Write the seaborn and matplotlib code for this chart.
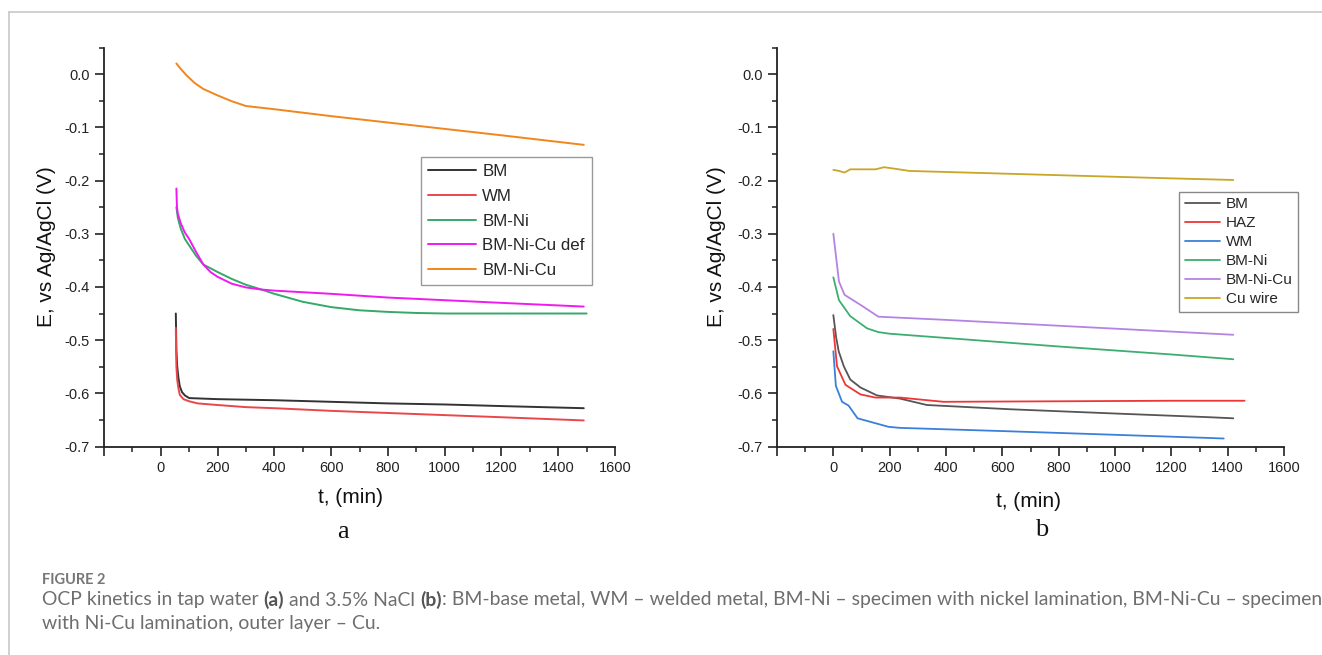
import numpy as np
import pandas as pd
import matplotlib
matplotlib.use("Agg")
import matplotlib.pyplot as plt
from matplotlib.lines import Line2D
from matplotlib.ticker import FixedLocator, MultipleLocator, FuncFormatter
from matplotlib import font_manager
import seaborn as sns

# ---------------- Panel a: tap water ----------------
a_series = ["BM", "WM", "BM-Ni", "BM-Ni-Cu def", "BM-Ni-Cu"]
a_colors = ["#333333", "#E8484C", "#35A86A", "#F01AF0", "#F0861C"]

a_bm_t = [53, 55, 58, 62, 67, 75, 85, 100, 200, 400, 600, 800, 1000, 1200, 1490]
a_bm_e = [-0.450, -0.520, -0.550, -0.570, -0.587, -0.598, -0.604, -0.609, -0.611,
          -0.613, -0.616, -0.619, -0.621, -0.624, -0.628]

a_wm_t = [53, 55, 58, 62, 67, 80, 100, 130, 200, 300, 400, 600, 800, 1000, 1200, 1490]
a_wm_e = [-0.477, -0.550, -0.575, -0.590, -0.603, -0.611, -0.615, -0.619, -0.622,
          -0.626, -0.628, -0.633, -0.637, -0.641, -0.645, -0.651]

a_ni_t = [55, 60, 70, 85, 100, 125, 150, 200, 250, 300, 355, 400, 500, 600, 700,
          800, 900, 1000, 1500]
a_ni_e = [-0.250, -0.270, -0.290, -0.310, -0.322, -0.342, -0.358, -0.372, -0.385,
          -0.396, -0.405, -0.413, -0.428, -0.438, -0.444, -0.447, -0.449, -0.450, -0.450]

a_nicudef_t = [55, 57, 60, 70, 85, 100, 125, 150, 175, 200, 250, 300, 355, 400, 600,
               800, 1000, 1200, 1490]
a_nicudef_e = [-0.215, -0.250, -0.262, -0.280, -0.298, -0.310, -0.335, -0.358, -0.372,
               -0.381, -0.394, -0.401, -0.405, -0.407, -0.413, -0.420, -0.425, -0.430, -0.437]

a_nicu_t = [55, 70, 90, 120, 150, 200, 250, 300, 400, 600, 800, 1000, 1200, 1490]
a_nicu_e = [0.020, 0.010, -0.002, -0.017, -0.028, -0.040, -0.051, -0.060, -0.066,
            -0.079, -0.091, -0.103, -0.115, -0.133]

# ---------------- Panel b: 3.5% NaCl ----------------
b_series = ["BM", "HAZ", "WM", "BM-Ni", "BM-Ni-Cu", "Cu wire"]
b_colors = ["#555555", "#EE3636", "#3A80DA", "#3DAE72", "#B583E2", "#C8A628"]

b_bm_t = [0, 10, 19, 37, 60, 96, 155, 237, 332, 628, 1000, 1337, 1420]
b_bm_e = [-0.453, -0.495, -0.521, -0.549, -0.574, -0.589, -0.604, -0.610, -0.622,
          -0.630, -0.638, -0.645, -0.647]

b_haz_t = [0, 13, 43, 96, 149, 237, 391, 800, 1200, 1460]
b_haz_e = [-0.479, -0.549, -0.584, -0.602, -0.608, -0.608, -0.616, -0.615, -0.614, -0.614]

b_wm_t = [0, 9, 31, 54, 86, 196, 237, 600, 1000, 1337, 1386]
b_wm_e = [-0.521, -0.586, -0.616, -0.623, -0.647, -0.663, -0.665, -0.671, -0.678,
          -0.684, -0.685]

b_ni_t = [0, 20, 40, 60, 120, 160, 200, 400, 800, 1200, 1420]
b_ni_e = [-0.382, -0.425, -0.440, -0.455, -0.478, -0.485, -0.488, -0.496, -0.512,
          -0.527, -0.536]

b_nicu_t = [0, 10, 20, 40, 100, 160, 400, 800, 1200, 1420]
b_nicu_e = [-0.300, -0.345, -0.390, -0.415, -0.435, -0.456, -0.462, -0.473, -0.484, -0.490]

b_cu_t = [0, 20, 40, 60, 100, 150, 180, 220, 270, 400, 600, 800, 1000, 1200, 1420]
b_cu_e = [-0.180, -0.182, -0.185, -0.179, -0.179, -0.179, -0.175, -0.178, -0.182,
          -0.184, -0.187, -0.190, -0.193, -0.196, -0.199]

x_ticks = [-200, 0, 200, 400, 600, 800, 1000, 1200, 1400, 1600]
y_ticks = [-0.7, -0.6, -0.5, -0.4, -0.3, -0.2, -0.1, 0.0]

caption_title = "FIGURE 2"
caption_l1_parts = ["OCP kinetics in tap water ", "(a)", " and 3.5% NaCl ", "(b)",
                    ": BM-base metal, WM \u2013 welded metal, BM-Ni \u2013 specimen with nickel "
                    "lamination, BM-Ni-Cu \u2013 specimen"]
caption_l1_bold = [False, True, False, True, False]
caption_l2 = "with Ni-Cu lamination, outer layer \u2013 Cu."


def long_frame(names, ts, es):
    rows = []
    for n, t, e in zip(names, ts, es):
        rows.append(pd.DataFrame({"t": t, "E": e, "series": n}))
    return pd.concat(rows, ignore_index=True)


def pick_caption_family():
    for fam in ["Lato", "Open Sans", "Noto Sans", "DejaVu Sans"]:
        try:
            p = font_manager.findfont(font_manager.FontProperties(family=fam, weight="bold"),
                                      fallback_to_default=False)
            if "bold" in p.lower():
                return fam
        except Exception:
            pass
    return "DejaVu Sans"


df_a = long_frame(a_series,
                  [a_bm_t, a_wm_t, a_ni_t, a_nicudef_t, a_nicu_t],
                  [a_bm_e, a_wm_e, a_ni_e, a_nicudef_e, a_nicu_e])
df_b = long_frame(b_series,
                  [b_bm_t, b_haz_t, b_wm_t, b_ni_t, b_nicu_t, b_cu_t],
                  [b_bm_e, b_haz_e, b_wm_e, b_ni_e, b_nicu_e, b_cu_e])

sns.set_theme(style="ticks")
plt.rcParams["font.family"] = ["Liberation Sans", "DejaVu Sans"]
plt.rcParams["axes.unicode_minus"] = False

cap_fam = pick_caption_family()
cap_family = [cap_fam, "DejaVu Sans"]

fig = plt.figure(figsize=(13.22, 6.55), dpi=100)
fig.patch.set_facecolor("white")

H = 655.0
W = 1322.0
ax_bottom = 1 - 446.5 / H
ax_h = 399.0 / H
ax_a = fig.add_axes([104 / W, ax_bottom, 511 / W, ax_h])
ax_b = fig.add_axes([777 / W, ax_bottom, 507 / W, ax_h])


def style_axis(ax):
    ax.set_xlim(-200, 1600)
    ax.set_ylim(-0.7, 0.05)
    ax.xaxis.set_major_locator(FixedLocator(x_ticks))
    ax.xaxis.set_minor_locator(MultipleLocator(100))
    ax.xaxis.set_major_formatter(FuncFormatter(lambda v, p: "" if v < 0 else f"{v:.0f}"))
    ax.yaxis.set_major_locator(FixedLocator(y_ticks))
    ax.yaxis.set_minor_locator(MultipleLocator(0.05))
    ax.yaxis.set_major_formatter(FuncFormatter(lambda v, p: "0.0" if abs(v) < 1e-9 else f"{v:.1f}"))
    for s in ["top", "right"]:
        ax.spines[s].set_visible(False)
    for s in ["left", "bottom"]:
        ax.spines[s].set_color("#222222")
        ax.spines[s].set_linewidth(1.3)
    ax.tick_params(which="major", direction="out", length=6.5, width=1.2,
                   color="#222222", labelsize=10.5, labelcolor="#222222", pad=4)
    ax.tick_params(which="minor", direction="out", length=3.5, width=1.1, color="#222222")
    ax.set_xlabel("t, (min)", fontsize=15, color="#111111")
    ax.set_ylabel("E, vs Ag/AgCl (V)", fontsize=15, color="#111111")
    ax.grid(False)


sns.lineplot(data=df_a, x="t", y="E", hue="series", hue_order=a_series,
             palette=dict(zip(a_series, a_colors)), estimator=None, sort=False,
             linewidth=1.4, ax=ax_a)
sns.lineplot(data=df_b, x="t", y="E", hue="series", hue_order=b_series,
             palette=dict(zip(b_series, b_colors)), estimator=None, sort=False,
             linewidth=1.3, ax=ax_b)

style_axis(ax_a)
style_axis(ax_b)
ax_a.yaxis.set_label_coords(-0.094, 0.5)
ax_b.yaxis.set_label_coords(-0.100, 0.5)
ax_a.xaxis.set_label_coords(0.483, -0.105)
ax_b.xaxis.set_label_coords(0.497, -0.115)

h, l = ax_a.get_legend_handles_labels()
leg = ax_a.legend(h, l, loc="upper right", bbox_to_anchor=(0.955, 0.726),
                  fontsize=12.2, frameon=True, fancybox=False, framealpha=1,
                  edgecolor="#999999", handlelength=2.8, handletextpad=0.4,
                  labelspacing=0.58, borderpad=0.42, borderaxespad=0)
leg.get_frame().set_linewidth(1.0)

h, l = ax_b.get_legend_handles_labels()
leg = ax_b.legend(h, l, loc="upper right", bbox_to_anchor=(1.0276, 0.6386),
                  fontsize=11, frameon=True, fancybox=False, framealpha=1,
                  edgecolor="#888888", handlelength=2.35, handletextpad=0.35,
                  labelspacing=0.33, borderpad=0.35, borderaxespad=0)
leg.get_frame().set_linewidth(1.0)

# panel letters
fig.text(343 / W, 1 - 532 / H, "a", ha="center", va="center", fontsize=19,
         family=["Liberation Serif", "DejaVu Serif"], color="#111111")
fig.text(1042 / W, 1 - 530 / H, "b", ha="center", va="center", fontsize=19,
         family=["Liberation Serif", "DejaVu Serif"], color="#111111")

# frame lines
fig.add_artist(Line2D([9 / W, 1.0], [1 - 12 / H, 1 - 12 / H], transform=fig.transFigure,
                      color="#c8c8c8", linewidth=1.2))
fig.add_artist(Line2D([9 / W, 9 / W], [1 - 12 / H, 0.0], transform=fig.transFigure,
                      color="#c8c8c8", linewidth=1.2))

# caption
fig.text(42 / W, 1 - 580 / H, caption_title, ha="left", va="center", fontsize=10.5,
         fontweight="bold", family=cap_family, color="#777777")

fig.canvas.draw()
r = fig.canvas.get_renderer()


def line_width(fs):
    total = 0.0
    for part, bold in zip(caption_l1_parts, caption_l1_bold):
        t = fig.text(0, 0, part, fontsize=fs, fontweight="bold" if bold else "normal",
                     family=cap_family)
        total += t.get_window_extent(r).width
        t.remove()
    return total


base_fs = 12.5
fs = base_fs * (1320 - 42) / line_width(base_fs)
fs = fs * (1320 - 42) / line_width(fs)

x = 42
y1 = 1 - 600 / H
for part, bold in zip(caption_l1_parts, caption_l1_bold):
    t = fig.text(x / W, y1, part, ha="left", va="center", fontsize=fs,
                 fontweight="bold" if bold else "normal",
                 family=cap_family,
                 color="#555555" if bold else "#6e6e6e")
    bb = t.get_window_extent(r)
    x = x + bb.width
fig.text(42 / W, 1 - 623 / H, caption_l2, ha="left", va="center", fontsize=fs,
         family=cap_family, color="#6e6e6e")

fig.savefig("out.png", dpi=100, facecolor="white")
